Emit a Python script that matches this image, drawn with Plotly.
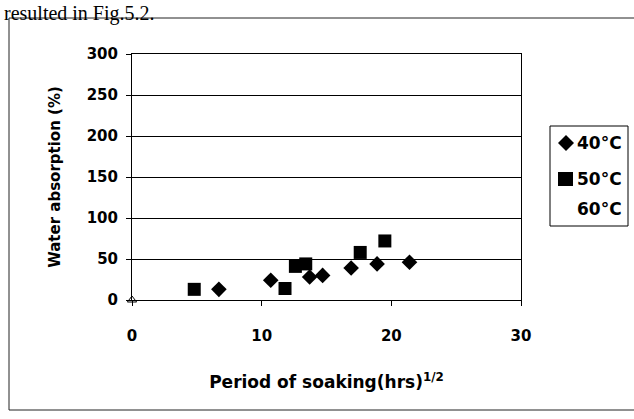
import plotly.graph_objects as go

# ---- data ----
x_40 = [6.7, 10.7, 13.7, 14.7, 16.9, 18.9, 21.4]
y_40 = [13, 24, 28, 30, 39, 44, 46]
x_50 = [4.8, 11.8, 12.6, 13.4, 17.6, 19.5]
y_50 = [13, 14, 41, 44, 58, 72]
x_60 = [0]
y_60 = [0]
series_names = ["40°C", "50°C", "60°C"]
x_ticks = [0, 10, 20, 30]
y_ticks = [0, 50, 100, 150, 200, 250, 300]

W, H = 634, 419
L, R, T, B = 132, 521, 54, 300  # plot area in pixels


def px(x):
    return (x - L) / (R - L)


def py(y):
    return (B - y) / (B - T)


FONT = "DejaVu Sans"

fig = go.Figure()
fig.add_trace(go.Scatter(x=x_40, y=y_40, mode="markers", name=series_names[0],
                         marker=dict(symbol="diamond", size=12, color="black"),
                         showlegend=False, cliponaxis=False))
fig.add_trace(go.Scatter(x=x_50, y=y_50, mode="markers", name=series_names[1],
                         marker=dict(symbol="square", size=13, color="black"),
                         showlegend=False, cliponaxis=False))
fig.add_trace(go.Scatter(x=x_60, y=y_60, mode="markers", name=series_names[2],
                         marker=dict(symbol="triangle-up-open", size=8, color="black",
                                     line=dict(width=1, color="black")),
                         showlegend=False, cliponaxis=False))

shapes = [
    # outer chart border (scan frame)
    dict(type="rect", xref="paper", yref="paper", x0=px(9), x1=px(645), y0=py(410), y1=py(18),
         line=dict(color="#222", width=1), layer="below"),
    # legend box
    dict(type="rect", xref="paper", yref="paper", x0=px(550), x1=px(628), y0=py(226), y1=py(126),
         line=dict(color="black", width=1), fillcolor="white"),
    # legend diamond
    dict(type="path", xref="paper", yref="paper",
         path=f"M {px(558)},{py(143)} L {px(566)},{py(135)} L {px(574)},{py(143)} L {px(566)},{py(151)} Z",
         line=dict(width=0), fillcolor="black"),
    # legend square
    dict(type="rect", xref="paper", yref="paper", x0=px(558), x1=px(573), y0=py(186), y1=py(172),
         line=dict(width=0), fillcolor="black"),
]

annotations = [
    dict(text="resulted in Fig.5.2.", xref="paper", yref="paper", x=px(2), y=py(0),
         xanchor="left", yanchor="top", showarrow=False,
         font=dict(family="Liberation Serif", size=20, color="black")),
]
for name, yy in zip(series_names, [143, 179, 209]):
    annotations.append(dict(text=f"<b>{name}</b>", xref="paper", yref="paper", x=px(575), y=py(yy),
                            xanchor="left", yanchor="middle", showarrow=False,
                            font=dict(family=FONT, size=17, color="black")))

fig.update_layout(
    width=W, height=H,
    margin=dict(l=L, r=W - R, t=T, b=H - B, pad=0),
    paper_bgcolor="white", plot_bgcolor="white",
    showlegend=False,
    shapes=shapes,
    annotations=annotations,
    font=dict(family=FONT, color="black"),
)
fig.update_xaxes(
    range=[0, 30], tickvals=x_ticks, ticktext=[f"<b>{v}</b>" for v in x_ticks],
    ticks="outside", ticklen=5, tickcolor="black", tickwidth=1,
    ticklabelstandoff=17,
    showline=True, linecolor="black", linewidth=1, mirror=True,
    showgrid=False, zeroline=False,
    tickfont=dict(family=FONT, size=15, color="black"),
    title=dict(text="<b>Period of soaking(hrs)</b><sup><b>1/2</b></sup>",
               font=dict(family=FONT, size=17, color="black"), standoff=32),
    automargin=False,
)
fig.update_yaxes(
    range=[0, 300], tickvals=y_ticks, ticktext=[f"<b>{v}</b>" for v in y_ticks],
    ticks="outside", ticklen=5, tickcolor="black", tickwidth=1,
    ticklabelstandoff=5,
    showline=True, linecolor="black", linewidth=1, mirror=True,
    showgrid=True, gridcolor="black", gridwidth=1, zeroline=False,
    tickfont=dict(family=FONT, size=15, color="black"),
    title=dict(text="<b>Water absorption (%)</b>",
               font=dict(family=FONT, size=15, color="black"), standoff=22),
    automargin=False,
)

fig.write_html("out.html")
